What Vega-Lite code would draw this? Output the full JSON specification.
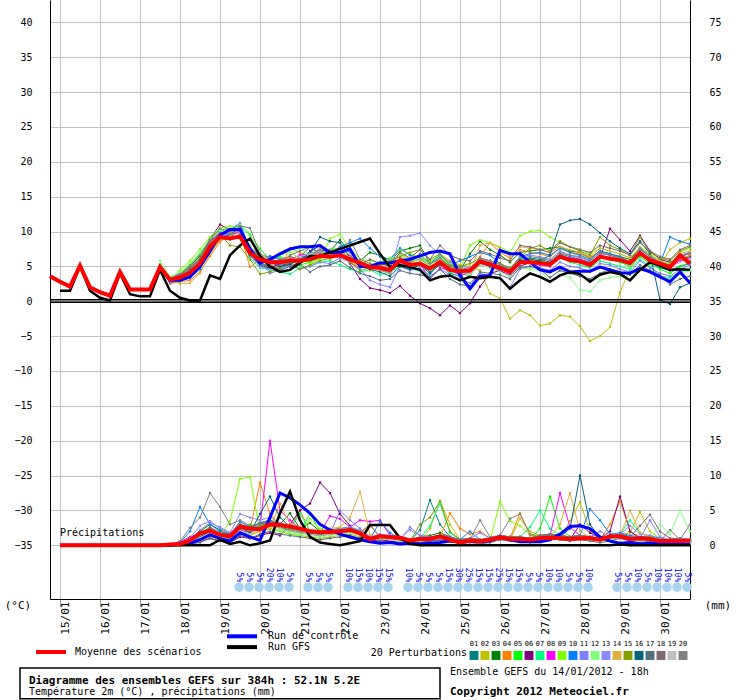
{
"$schema":"https://vega.github.io/schema/vega-lite/v6.json",
"width":640,"height":599,"autosize":"none",
"padding":{"left":50,"top":0,"right":50,"bottom":101},
"background":"white",
"config":{"font":"DejaVu Sans Mono","view":{"stroke":null},"axis":{"labelFont":"DejaVu Sans Mono","labelFontSize":10,"labelColor":"black","labelOverlap":false,"labelBound":false,"labelFlush":false}},
"datasets":{
"tm":[{"x":0,"m":3.6,"c":3.6,"g":null},{"x":1,"m":2.8,"c":2.8,"g":1.5},{"x":2,"m":2.1,"c":2.1,"g":1.5},{"x":3,"m":5.1,"c":5.1,"g":5.0},{"x":4,"m":2.0,"c":2.0,"g":1.5},{"x":5,"m":1.3,"c":1.3,"g":0.5},{"x":6,"m":0.8,"c":0.8,"g":0.1},{"x":7,"m":4.2,"c":4.2,"g":4.0},{"x":8,"m":1.7,"c":1.7,"g":1.0},{"x":9,"m":1.7,"c":1.7,"g":0.7},{"x":10,"m":1.7,"c":1.7,"g":0.7},{"x":11,"m":4.9,"c":4.9,"g":4.5},{"x":12,"m":3.1,"c":3.0,"g":1.5},{"x":13,"m":3.4,"c":3.0,"g":0.5},{"x":14,"m":4.1,"c":3.5,"g":0.1},{"x":15,"m":5.4,"c":5.0,"g":0.1},{"x":16,"m":7.8,"c":7.2,"g":3.7},{"x":17,"m":9.2,"c":9.5,"g":3.2},{"x":18,"m":9.0,"c":10.3,"g":6.6},{"x":19,"m":9.3,"c":10.3,"g":8.0},{"x":20,"m":6.9,"c":7.5,"g":9.0},{"x":21,"m":6.0,"c":5.5,"g":6.5},{"x":22,"m":5.6,"c":6.0,"g":5.0},{"x":23,"m":5.6,"c":6.8,"g":4.2},{"x":24,"m":5.8,"c":7.5,"g":4.5},{"x":25,"m":5.8,"c":7.8,"g":5.5},{"x":26,"m":6.0,"c":7.8,"g":6.5},{"x":27,"m":6.5,"c":8.0,"g":6.5},{"x":28,"m":6.4,"c":7.0,"g":7.0},{"x":29,"m":6.6,"c":7.0,"g":7.5},{"x":30,"m":6.0,"c":7.5,"g":8.0},
{"x":31,"m":5.5,"c":5.0,"g":8.5},{"x":32,"m":4.9,"c":5.0,"g":9.0},{"x":33,"m":4.8,"c":5.5,"g":6.8},{"x":34,"m":4.5,"c":5.5,"g":4.9},{"x":35,"m":5.9,"c":5.8,"g":5.2},{"x":36,"m":5.2,"c":6.0,"g":4.9},{"x":37,"m":5.4,"c":6.5,"g":4.5},{"x":38,"m":4.7,"c":7.0,"g":3.0},{"x":39,"m":5.6,"c":7.2,"g":3.5},{"x":40,"m":4.5,"c":6.8,"g":3.7},{"x":41,"m":4.3,"c":3.7,"g":3.0},{"x":42,"m":4.4,"c":1.8,"g":3.5},{"x":43,"m":5.7,"c":3.6,"g":3.3},{"x":44,"m":5.3,"c":3.7,"g":3.5},{"x":45,"m":4.8,"c":7.3,"g":3.3},{"x":46,"m":4.2,"c":6.8,"g":1.8},{"x":47,"m":5.6,"c":6.8,"g":3.0},{"x":48,"m":5.6,"c":5.6,"g":4.0},{"x":49,"m":5.5,"c":4.5,"g":3.5},{"x":50,"m":5.3,"c":4.2,"g":2.8},{"x":51,"m":6.4,"c":4.9,"g":3.7},{"x":52,"m":5.9,"c":4.2,"g":4.2},{"x":53,"m":5.7,"c":4.3,"g":3.9},{"x":54,"m":5.2,"c":4.3,"g":2.8},{"x":55,"m":6.4,"c":4.9,"g":3.8},{"x":56,"m":6.1,"c":4.5,"g":4.2},{"x":57,"m":5.9,"c":4.1,"g":3.9},{"x":58,"m":5.5,"c":4.0,"g":3.0},{"x":59,"m":6.9,"c":4.7,"g":4.5},{"x":60,"m":5.9,"c":4.2,"g":5.6},{"x":61,"m":5.4,"c":3.5,"g":5.1},{"x":62,"m":4.9,"c":2.8,"g":4.5},{"x":63,"m":6.6,"c":4.2,"g":4.6},{"x":64,"m":5.4,"c":2.6,"g":4.5}],
"pm":[{"x":1,"m":0,"c":0,"g":0},{"x":2,"m":0,"c":0,"g":0},{"x":3,"m":0,"c":0,"g":0},{"x":4,"m":0,"c":0,"g":0},{"x":5,"m":0,"c":0,"g":0},{"x":6,"m":0,"c":0,"g":0},{"x":7,"m":0,"c":0,"g":0},{"x":8,"m":0,"c":0,"g":0},{"x":9,"m":0,"c":0,"g":0},{"x":10,"m":0,"c":0,"g":0},{"x":11,"m":0,"c":0,"g":0},{"x":12,"m":0.1,"c":0,"g":0},{"x":13,"m":0.2,"c":0.1,"g":0},{"x":14,"m":0.7,"c":0.3,"g":0},{"x":15,"m":1.7,"c":0.8,"g":0},{"x":16,"m":2.1,"c":1.5,"g":0},{"x":17,"m":1.5,"c":1.0,"g":0.8},{"x":18,"m":1.3,"c":0.6,"g":0.2},{"x":19,"m":2.7,"c":1.8,"g":0.5},{"x":20,"m":2.4,"c":1.2,"g":0},{"x":21,"m":2.3,"c":0.7,"g":0.3},{"x":22,"m":3.0,"c":4.0,"g":0.7},{"x":23,"m":2.9,"c":7.5,"g":4.6},{"x":24,"m":2.7,"c":6.8,"g":7.7},{"x":25,"m":2.4,"c":5.8,"g":3.6},{"x":26,"m":2.0,"c":4.6,"g":1.2},{"x":27,"m":1.9,"c":3.0,"g":0.4},{"x":28,"m":1.9,"c":2.2,"g":0.2},{"x":29,"m":2.0,"c":1.6,"g":0},{"x":30,"m":2.2,"c":1.2,"g":0.3},{"x":31,"m":1.7,"c":0.8,"g":0.6},{"x":32,"m":0.9,"c":0.5,"g":2.9},{"x":33,"m":1.3,"c":0.3,"g":2.9},{"x":34,"m":1.2,"c":0.4,"g":2.9},{"x":35,"m":1.1,"c":0.2,"g":1.0},{"x":36,"m":0.7,"c":0.3,"g":0.2},{"x":37,"m":0.9,"c":0.2,"g":0},{"x":38,"m":0.9,"c":0.3,"g":0},{"x":39,"m":1.3,"c":0.4,"g":0},{"x":40,"m":0.8,"c":0.6,"g":0},{"x":41,"m":0.4,"c":0.5,"g":0},{"x":42,"m":0.7,"c":0.6,"g":0},{"x":43,"m":0.6,"c":0.5,"g":0},{"x":44,"m":0.8,"c":0.6,"g":0},{"x":45,"m":1.1,"c":1.2,"g":0},{"x":46,"m":0.9,"c":0.8,"g":0},{"x":47,"m":0.9,"c":0.5,"g":0},{"x":48,"m":0.8,"c":0.5,"g":0},{"x":49,"m":1.0,"c":0.5,"g":0},{"x":50,"m":1.1,"c":0.8,"g":0},{"x":51,"m":1.0,"c":1.6,"g":0},{"x":52,"m":0.9,"c":2.7,"g":0},{"x":53,"m":1.0,"c":2.8,"g":0},{"x":54,"m":1.0,"c":2.4,"g":0},{"x":55,"m":0.8,"c":1.2,"g":0},{"x":56,"m":1.3,"c":0.6,"g":0},{"x":57,"m":1.3,"c":0.3,"g":0.1},{"x":58,"m":0.9,"c":0.4,"g":0},{"x":59,"m":1.0,"c":0.2,"g":0},{"x":60,"m":0.9,"c":0.3,"g":0},{"x":61,"m":0.6,"c":0.2,"g":0},{"x":62,"m":0.6,"c":0.1,"g":0},{"x":63,"m":0.6,"c":0.1,"g":0},{"x":64,"m":0.7,"c":0.1,"g":0}],
"tp":[
{"x":11,"a":5.0,"b":4.8,"c":5.1,"d":4.9,"e":5.3,"f":4.7,"g":5.0,"h":4.9,"i":5.2,"j":4.8,"k":4.6,"l":5.8,"m":4.9,"n":5.0,"o":5.1,"p":4.8,"q":4.7,"r":5.0,"s":4.9,"t":5.2},
{"x":12,"a":3.0,"b":2.8,"c":3.2,"d":2.5,"e":3.4,"f":3.1,"g":2.9,"h":3.3,"i":3.0,"j":2.7,"k":3.1,"l":3.5,"m":2.6,"n":3.2,"o":3.0,"p":2.9,"q":3.1,"r":2.8,"s":3.3,"t":3.0},
{"x":13,"a":3.5,"b":3.0,"c":3.8,"d":2.8,"e":4.0,"f":3.2,"g":3.6,"h":3.9,"i":4.5,"j":2.9,"k":3.3,"l":4.2,"m":3.1,"n":2.5,"o":3.7,"p":3.0,"q":3.4,"r":3.6,"s":3.2,"t":3.8},
{"x":14,"a":4.5,"b":3.5,"c":5.0,"d":3.0,"e":5.2,"f":4.0,"g":4.3,"h":4.8,"i":5.8,"j":3.4,"k":4.1,"l":5.5,"m":3.8,"n":2.6,"o":4.9,"p":3.6,"q":4.0,"r":4.7,"s":3.9,"t":5.1},
{"x":15,"a":6.0,"b":5.0,"c":6.5,"d":4.2,"e":6.8,"f":5.8,"g":5.5,"h":6.2,"i":7.5,"j":4.6,"k":5.3,"l":7.0,"m":5.0,"n":4.0,"o":6.2,"p":4.8,"q":5.2,"r":6.0,"s":5.1,"t":6.6},
{"x":16,"a":8.5,"b":7.0,"c":8.8,"d":6.5,"e":9.0,"f":8.9,"g":7.8,"h":8.5,"i":9.2,"j":7.0,"k":7.5,"l":8.9,"m":7.4,"n":6.8,"o":8.4,"p":7.2,"q":7.6,"r":8.2,"s":7.3,"t":8.8},
{"x":17,"a":10.0,"b":8.8,"c":9.5,"d":8.5,"e":10.2,"f":11.0,"g":9.4,"h":9.8,"i":10.5,"j":9.0,"k":9.3,"l":10.1,"m":9.0,"n":8.8,"o":9.6,"p":9.1,"q":9.2,"r":9.7,"s":8.9,"t":10.4},
{"x":18,"a":9.5,"b":9.2,"c":9.0,"d":9.6,"e":10.4,"f":10.2,"g":8.8,"h":9.5,"i":10.8,"j":10.2,"k":9.6,"l":9.8,"m":10.0,"n":9.4,"o":8.0,"p":9.5,"q":9.0,"r":10.0,"s":9.3,"t":9.6},
{"x":19,"a":10.2,"b":9.0,"c":10.5,"d":9.8,"e":10.8,"f":10.9,"g":9.6,"h":10.0,"i":10.4,"j":11.2,"k":10.3,"l":11.0,"m":9.9,"n":10.4,"o":7.8,"p":10.6,"q":9.5,"r":10.5,"s":9.2,"t":10.8},
{"x":20,"a":7.5,"b":7.0,"c":6.5,"d":4.9,"e":9.5,"f":7.2,"g":6.2,"h":7.8,"i":8.0,"j":7.4,"k":6.8,"l":9.8,"m":6.5,"n":7.0,"o":6.0,"p":7.6,"q":6.6,"r":7.1,"s":7.4,"t":10.5},
{"x":21,"a":5.5,"b":6.2,"c":5.2,"d":6.0,"e":7.5,"f":5.0,"g":4.8,"h":6.5,"i":6.0,"j":5.8,"k":5.6,"l":6.5,"m":5.0,"n":6.6,"o":3.9,"p":6.4,"q":5.3,"r":6.0,"s":5.8,"t":6.8},
{"x":22,"a":5.0,"b":5.5,"c":4.8,"d":5.2,"e":6.0,"f":4.8,"g":4.5,"h":5.8,"i":5.6,"j":6.5,"k":4.0,"l":6.2,"m":4.6,"n":6.0,"o":4.2,"p":5.6,"q":5.0,"r":5.5,"s":5.2,"t":6.2},
{"x":23,"a":4.6,"b":5.8,"c":5.0,"d":4.7,"e":6.4,"f":5.4,"g":4.2,"h":5.2,"i":6.8,"j":6.0,"k":4.5,"l":6.6,"m":5.2,"n":5.8,"o":4.8,"p":5.0,"q":4.4,"r":6.0,"s":5.6,"t":5.4},
{"x":24,"a":5.5,"b":6.2,"c":5.6,"d":7.6,"e":5.8,"f":5.0,"g":3.9,"h":6.0,"i":7.2,"j":5.4,"k":5.2,"l":7.0,"m":5.6,"n":6.5,"o":5.4,"p":5.3,"q":5.0,"r":6.4,"s":5.8,"t":6.6},
{"x":25,"a":6.2,"b":5.8,"c":6.4,"d":7.0,"e":5.2,"f":5.6,"g":4.8,"h":6.6,"i":6.0,"j":6.2,"k":4.6,"l":7.4,"m":6.2,"n":5.8,"o":4.6,"p":5.9,"q":5.3,"r":6.0,"s":6.4,"t":7.2},
{"x":26,"a":6.8,"b":6.0,"c":7.8,"d":6.2,"e":5.6,"f":7.2,"g":5.0,"h":6.8,"i":5.4,"j":7.0,"k":5.0,"l":6.8,"m":6.6,"n":6.4,"o":5.2,"p":7.0,"q":4.2,"r":6.5,"s":6.8,"t":7.8},
{"x":27,"a":7.4,"b":6.6,"c":6.8,"d":7.0,"e":6.2,"f":8.0,"g":5.6,"h":7.2,"i":6.0,"j":8.0,"k":5.6,"l":7.2,"m":7.0,"n":7.8,"o":5.8,"p":9.2,"q":5.0,"r":7.4,"s":6.4,"t":8.0},
{"x":28,"a":6.4,"b":7.0,"c":7.2,"d":6.0,"e":7.4,"f":6.6,"g":5.8,"h":6.8,"i":9.0,"j":6.4,"k":5.4,"l":6.6,"m":7.4,"n":6.2,"o":6.2,"p":8.6,"q":5.2,"r":7.0,"s":6.6,"t":7.2},
{"x":29,"a":7.2,"b":6.4,"c":8.8,"d":6.8,"e":7.6,"f":7.8,"g":5.2,"h":7.6,"i":9.6,"j":7.8,"k":6.2,"l":7.4,"m":6.8,"n":7.0,"o":6.6,"p":8.4,"q":5.8,"r":6.8,"s":7.2,"t":6.6},
{"x":30,"a":6.0,"b":5.8,"c":7.0,"d":5.6,"e":6.4,"f":5.4,"g":4.6,"h":6.6,"i":7.6,"j":8.4,"k":5.6,"l":6.8,"m":7.2,"n":6.4,"o":5.6,"p":6.2,"q":4.8,"r":6.0,"s":6.8,"t":8.8},
{"x":31,"a":5.4,"b":5.0,"c":5.8,"d":4.8,"e":5.6,"f":3.2,"g":4.2,"h":5.4,"i":6.0,"j":9.0,"k":4.6,"l":5.8,"m":5.6,"n":5.2,"o":4.4,"p":5.0,"q":4.0,"r":5.2,"s":5.8,"t":6.0},
{"x":32,"a":4.8,"b":4.6,"c":7.0,"d":5.0,"e":5.2,"f":1.9,"g":4.5,"h":5.0,"i":5.8,"j":7.6,"k":3.0,"l":5.2,"m":4.8,"n":4.4,"o":4.8,"p":4.6,"q":3.6,"r":6.0,"s":5.0,"t":5.4},
{"x":33,"a":4.6,"b":5.0,"c":6.6,"d":4.4,"e":4.8,"f":1.6,"g":3.8,"h":4.6,"i":5.6,"j":6.4,"k":2.4,"l":5.6,"m":4.6,"n":4.6,"o":5.2,"p":4.2,"q":3.0,"r":5.4,"s":4.8,"t":5.0},
{"x":34,"a":4.0,"b":5.6,"c":5.8,"d":4.0,"e":4.6,"f":1.2,"g":4.2,"h":4.2,"i":6.2,"j":6.0,"k":2.0,"l":6.0,"m":4.2,"n":5.6,"o":5.8,"p":3.6,"q":3.2,"r":5.0,"s":4.4,"t":4.6},
{"x":35,"a":5.6,"b":6.8,"c":7.2,"d":5.8,"e":6.2,"f":2.2,"g":5.0,"h":5.6,"i":7.4,"j":7.6,"k":5.0,"l":6.6,"m":9.2,"n":6.4,"o":6.4,"p":5.0,"q":4.4,"r":7.0,"s":5.8,"t":6.2},
{"x":36,"a":5.0,"b":6.0,"c":7.6,"d":5.2,"e":5.6,"f":0.8,"g":4.6,"h":5.0,"i":6.8,"j":6.6,"k":4.4,"l":6.0,"m":9.4,"n":5.8,"o":7.0,"p":4.6,"q":4.0,"r":6.2,"s":5.2,"t":5.6},
{"x":37,"a":5.4,"b":6.4,"c":8.0,"d":5.6,"e":6.0,"f":-0.3,"g":4.4,"h":5.4,"i":6.4,"j":6.2,"k":4.8,"l":6.4,"m":9.8,"n":6.0,"o":7.4,"p":5.2,"q":3.8,"r":7.4,"s":5.6,"t":6.8},
{"x":38,"a":4.2,"b":5.6,"c":5.4,"d":4.6,"e":5.2,"f":-1.0,"g":3.8,"h":3.2,"i":5.6,"j":5.4,"k":3.6,"l":5.2,"m":8.0,"n":5.0,"o":6.0,"p":4.0,"q":3.4,"r":6.0,"s":4.8,"t":5.4},
{"x":39,"a":5.2,"b":6.8,"c":6.0,"d":6.2,"e":6.4,"f":-2.0,"g":5.6,"h":4.8,"i":6.8,"j":6.6,"k":4.6,"l":6.4,"m":6.6,"n":5.8,"o":6.8,"p":5.4,"q":4.6,"r":8.0,"s":6.0,"t":6.2},
{"x":40,"a":4.0,"b":5.8,"c":5.0,"d":4.6,"e":5.0,"f":-0.6,"g":4.2,"h":4.4,"i":5.4,"j":5.2,"k":3.8,"l":5.4,"m":5.6,"n":4.8,"o":5.2,"p":4.4,"q":3.2,"r":6.6,"s":4.6,"t":5.0},
{"x":41,"a":3.6,"b":5.2,"c":4.4,"d":4.4,"e":4.6,"f":-1.7,"g":4.0,"h":3.8,"i":4.8,"j":5.8,"k":3.2,"l":4.4,"m":5.0,"n":4.6,"o":5.0,"p":4.0,"q":2.4,"r":6.0,"s":4.2,"t":4.8},
{"x":42,"a":4.2,"b":5.0,"c":6.8,"d":4.2,"e":4.4,"f":-0.3,"g":3.6,"h":4.0,"i":8.0,"j":6.4,"k":2.6,"l":3.8,"m":4.8,"n":4.2,"o":5.4,"p":4.4,"q":2.2,"r":5.8,"s":4.0,"t":4.6},
{"x":43,"a":6.0,"b":4.4,"c":8.6,"d":6.4,"e":5.8,"f":2.1,"g":5.4,"h":5.4,"i":8.8,"j":7.0,"k":4.0,"l":5.2,"m":6.0,"n":8.0,"o":6.2,"p":5.6,"q":4.2,"r":7.2,"s":5.6,"t":6.2},
{"x":44,"a":5.6,"b":1.1,"c":7.4,"d":8.4,"e":5.4,"f":4.0,"g":5.2,"h":5.0,"i":8.4,"j":6.6,"k":3.6,"l":4.8,"m":5.6,"n":8.4,"o":5.8,"p":5.0,"q":4.0,"r":6.8,"s":5.2,"t":5.8},
{"x":45,"a":5.0,"b":0.4,"c":6.6,"d":7.0,"e":5.0,"f":4.4,"g":4.6,"h":4.4,"i":7.8,"j":5.4,"k":3.4,"l":4.2,"m":5.0,"n":7.6,"o":5.4,"p":4.6,"q":3.8,"r":6.2,"s":4.8,"t":5.2},
{"x":46,"a":4.6,"b":-2.5,"c":5.6,"d":6.2,"e":4.4,"f":3.6,"g":4.0,"h":3.8,"i":7.0,"j":4.6,"k":2.0,"l":3.6,"m":4.6,"n":6.4,"o":4.8,"p":4.0,"q":3.2,"r":5.8,"s":4.2,"t":4.6},
{"x":47,"a":6.0,"b":-1.3,"c":7.0,"d":7.4,"e":6.2,"f":5.0,"g":5.6,"h":5.4,"i":9.4,"j":6.4,"k":4.6,"l":4.8,"m":6.4,"n":7.8,"o":6.2,"p":5.8,"q":4.8,"r":8.0,"s":5.6,"t":6.2},
{"x":48,"a":6.2,"b":-2.0,"c":7.2,"d":7.0,"e":6.0,"f":5.6,"g":5.8,"h":5.6,"i":10.0,"j":6.8,"k":5.0,"l":4.6,"m":6.6,"n":7.6,"o":7.6,"p":6.0,"q":5.0,"r":7.8,"s":5.8,"t":6.4},
{"x":49,"a":6.0,"b":-3.5,"c":7.4,"d":6.8,"e":5.8,"f":5.4,"g":5.4,"h":5.2,"i":10.2,"j":7.0,"k":4.8,"l":4.4,"m":6.4,"n":7.4,"o":8.0,"p":5.8,"q":4.6,"r":7.4,"s":5.6,"t":6.2},
{"x":50,"a":5.6,"b":-3.2,"c":7.6,"d":6.4,"e":5.4,"f":5.2,"g":5.0,"h":5.0,"i":9.2,"j":6.6,"k":4.4,"l":2.8,"m":6.0,"n":7.0,"o":7.2,"p":6.6,"q":3.4,"r":7.0,"s":5.2,"t":5.8},
{"x":51,"a":6.8,"b":-2.0,"c":7.8,"d":7.6,"e":6.6,"f":6.4,"g":6.2,"h":6.6,"i":8.4,"j":7.6,"k":5.6,"l":3.8,"m":7.2,"n":7.8,"o":8.6,"p":11.0,"q":4.4,"r":8.4,"s":6.4,"t":7.0},
{"x":52,"a":6.4,"b":-2.2,"c":7.2,"d":7.0,"e":6.0,"f":5.8,"g":5.6,"h":6.2,"i":7.8,"j":7.0,"k":5.0,"l":3.4,"m":6.6,"n":7.4,"o":7.8,"p":11.6,"q":4.0,"r":7.8,"s":5.8,"t":6.6},
{"x":53,"a":6.0,"b":-3.6,"c":7.0,"d":6.8,"e":5.8,"f":5.6,"g":5.2,"h":6.0,"i":7.4,"j":6.6,"k":4.8,"l":1.6,"m":6.2,"n":7.0,"o":7.2,"p":11.8,"q":3.6,"r":7.4,"s":5.6,"t":6.4},
{"x":54,"a":5.6,"b":-5.7,"c":6.2,"d":6.2,"e":5.2,"f":5.0,"g":4.8,"h":5.4,"i":6.8,"j":6.0,"k":4.2,"l":1.4,"m":5.8,"n":6.4,"o":6.6,"p":11.0,"q":3.2,"r":7.0,"s":5.2,"t":5.8},
{"x":55,"a":6.4,"b":-5.0,"c":7.2,"d":7.2,"e":6.4,"f":6.2,"g":5.8,"h":6.6,"i":7.6,"j":7.2,"k":5.4,"l":3.0,"m":6.8,"n":7.6,"o":9.2,"p":9.8,"q":4.0,"r":8.0,"s":6.4,"t":7.0},
{"x":56,"a":6.2,"b":-3.7,"c":6.8,"d":6.6,"e":6.0,"f":10.4,"g":5.4,"h":6.2,"i":7.2,"j":6.8,"k":5.2,"l":3.4,"m":6.6,"n":7.2,"o":8.0,"p":8.6,"q":4.6,"r":7.6,"s":6.2,"t":6.6},
{"x":57,"a":5.8,"b":1.3,"c":6.4,"d":6.2,"e":5.6,"f":8.8,"g":5.0,"h":5.8,"i":6.8,"j":6.4,"k":4.6,"l":3.6,"m":6.0,"n":6.8,"o":7.4,"p":7.6,"q":4.2,"r":7.2,"s":5.8,"t":6.2},
{"x":58,"a":5.2,"b":4.6,"c":6.0,"d":5.6,"e":5.0,"f":7.2,"g":4.6,"h":5.4,"i":6.2,"j":5.6,"k":4.2,"l":3.0,"m":5.4,"n":6.2,"o":6.6,"p":6.8,"q":3.8,"r":6.6,"s":5.2,"t":5.6},
{"x":59,"a":6.8,"b":7.0,"c":7.6,"d":7.2,"e":6.4,"f":9.4,"g":6.0,"h":7.0,"i":7.8,"j":7.4,"k":5.8,"l":5.0,"m":7.6,"n":7.6,"o":9.2,"p":8.6,"q":5.2,"r":8.4,"s":7.0,"t":7.6},
{"x":60,"a":5.6,"b":6.0,"c":6.6,"d":6.0,"e":5.4,"f":7.2,"g":5.0,"h":6.0,"i":6.8,"j":6.4,"k":4.8,"l":4.2,"m":6.4,"n":6.6,"o":7.0,"p":6.8,"q":4.4,"r":7.2,"s":6.0,"t":6.4},
{"x":61,"a":4.8,"b":5.2,"c":5.4,"d":5.4,"e":4.6,"f":6.0,"g":3.6,"h":5.2,"i":5.8,"j":5.4,"k":4.0,"l":3.6,"m":5.6,"n":5.8,"o":6.2,"p":0.2,"q":3.8,"r":6.4,"s":5.2,"t":5.6},
{"x":62,"a":4.4,"b":7.4,"c":5.0,"d":4.8,"e":4.0,"f":5.6,"g":3.4,"h":4.8,"i":5.4,"j":9.2,"k":3.6,"l":3.2,"m":5.0,"n":5.2,"o":5.8,"p":-0.4,"q":2.4,"r":6.0,"s":4.8,"t":5.2},
{"x":63,"a":5.0,"b":8.4,"c":6.0,"d":6.0,"e":5.0,"f":6.4,"g":4.2,"h":5.8,"i":7.0,"j":8.6,"k":4.6,"l":4.0,"m":6.6,"n":6.8,"o":7.2,"p":2.0,"q":3.2,"r":7.4,"s":5.6,"t":6.4},
{"x":64,"a":5.4,"b":9.0,"c":6.4,"d":6.6,"e":5.6,"f":7.0,"g":4.6,"h":6.2,"i":7.6,"j":8.2,"k":5.2,"l":4.4,"m":7.0,"n":7.2,"o":7.8,"p":2.6,"q":3.6,"r":8.0,"s":6.0,"t":6.8}],
"pp":[
{"x":11,"a":0,"b":0,"c":0,"d":0,"e":0,"f":0,"g":0,"h":0,"i":0,"j":0,"k":0,"l":0,"m":0,"n":0,"o":0,"p":0,"q":0,"r":0,"s":0,"t":0},
{"x":12,"a":0,"b":0,"c":0,"d":0,"e":0,"f":0,"g":0,"h":0,"i":0,"j":0,"k":0,"l":0,"m":0,"n":0,"o":0,"p":0,"q":0,"r":0,"s":0,"t":0.1},
{"x":13,"a":0.2,"b":0,"c":0.3,"d":0,"e":0.1,"f":0,"g":0.2,"h":0.5,"i":0,"j":0.4,"k":0.3,"l":0,"m":0.2,"n":0,"o":0.1,"p":0.3,"q":0,"r":0.2,"s":0.1,"t":0.6},
{"x":14,"a":0.8,"b":0.4,"c":1.0,"d":0.3,"e":0.6,"f":0.2,"g":0.9,"h":1.2,"i":0.5,"j":2.0,"k":0.7,"l":0.4,"m":1.1,"n":0.3,"o":0.8,"p":0.6,"q":0.2,"r":1.0,"s":0.5,"t":2.5},
{"x":15,"a":1.5,"b":1.0,"c":2.0,"d":0.8,"e":1.2,"f":0.5,"g":1.8,"h":1.6,"i":1.0,"j":5.5,"k":2.2,"l":1.0,"m":2.8,"n":0.6,"o":1.4,"p":1.2,"q":0.4,"r":1.6,"s":1.1,"t":4.0},
{"x":16,"a":2.4,"b":1.6,"c":3.0,"d":1.5,"e":2.0,"f":1.0,"g":2.6,"h":2.2,"i":1.6,"j":3.0,"k":3.2,"l":1.8,"m":3.5,"n":1.2,"o":2.2,"p":2.0,"q":1.0,"r":2.6,"s":1.8,"t":7.5},
{"x":17,"a":1.5,"b":1.0,"c":2.2,"d":1.0,"e":1.4,"f":0.6,"g":1.6,"h":1.5,"i":1.2,"j":2.0,"k":2.6,"l":1.2,"m":2.4,"n":0.8,"o":1.4,"p":1.4,"q":0.6,"r":1.8,"s":1.2,"t":5.5},
{"x":18,"a":1.0,"b":0.8,"c":1.6,"d":0.6,"e":1.0,"f":0.4,"g":1.2,"h":1.0,"i":3.5,"j":1.5,"k":1.8,"l":0.8,"m":1.8,"n":0.6,"o":1.0,"p":1.0,"q":0.4,"r":1.4,"s":0.8,"t":3.0},
{"x":19,"a":2.5,"b":1.8,"c":3.0,"d":2.6,"e":2.2,"f":1.2,"g":2.8,"h":2.2,"i":9.5,"j":3.4,"k":2.8,"l":2.0,"m":4.5,"n":1.8,"o":2.4,"p":2.6,"q":1.4,"r":3.0,"s":2.0,"t":3.6},
{"x":20,"a":2.0,"b":1.4,"c":2.4,"d":2.2,"e":3.0,"f":1.0,"g":2.2,"h":1.8,"i":9.8,"j":2.6,"k":2.2,"l":1.6,"m":4.0,"n":1.6,"o":2.0,"p":1.8,"q":1.0,"r":2.6,"s":1.6,"t":2.8},
{"x":21,"a":2.8,"b":2.0,"c":3.2,"d":9.0,"e":2.6,"f":1.4,"g":3.0,"h":2.6,"i":2.0,"j":3.2,"k":3.0,"l":2.2,"m":3.6,"n":2.0,"o":2.8,"p":4.5,"q":1.6,"r":3.2,"s":2.4,"t":3.0},
{"x":22,"a":3.4,"b":2.4,"c":3.6,"d":4.5,"e":3.0,"f":1.8,"g":3.6,"h":15.0,"i":2.4,"j":3.6,"k":3.4,"l":2.6,"m":4.0,"n":2.4,"o":3.2,"p":7.0,"q":2.0,"r":3.6,"s":2.8,"t":3.4},
{"x":23,"a":2.6,"b":2.0,"c":3.0,"d":2.8,"e":2.4,"f":1.4,"g":2.8,"h":5.0,"i":2.0,"j":2.8,"k":2.6,"l":2.2,"m":3.2,"n":6.0,"o":2.6,"p":4.0,"q":1.6,"r":3.0,"s":2.4,"t":2.8},
{"x":24,"a":2.2,"b":1.6,"c":4.6,"d":2.4,"e":2.0,"f":3.0,"g":2.4,"h":3.6,"i":1.6,"j":2.4,"k":2.2,"l":1.8,"m":2.8,"n":3.0,"o":2.2,"p":2.6,"q":1.4,"r":2.6,"s":2.0,"t":2.4},
{"x":25,"a":1.8,"b":1.4,"c":2.4,"d":5.0,"e":1.8,"f":5.0,"g":4.6,"h":2.4,"i":1.4,"j":2.2,"k":1.8,"l":1.6,"m":2.4,"n":2.6,"o":1.8,"p":2.2,"q":1.2,"r":2.2,"s":1.8,"t":2.0},
{"x":26,"a":1.6,"b":1.2,"c":3.2,"d":2.0,"e":4.6,"f":6.0,"g":2.0,"h":2.0,"i":3.8,"j":1.8,"k":1.6,"l":1.4,"m":2.2,"n":2.2,"o":1.6,"p":1.8,"q":1.0,"r":2.0,"s":1.6,"t":1.8},
{"x":27,"a":1.4,"b":1.0,"c":2.0,"d":1.6,"e":2.0,"f":9.0,"g":1.8,"h":1.8,"i":2.4,"j":1.6,"k":1.4,"l":1.2,"m":2.0,"n":2.0,"o":1.4,"p":1.6,"q":0.8,"r":1.8,"s":1.4,"t":1.6},
{"x":28,"a":1.6,"b":1.2,"c":2.2,"d":1.8,"e":1.8,"f":7.5,"g":2.0,"h":4.2,"i":2.0,"j":1.8,"k":1.6,"l":1.4,"m":2.2,"n":2.4,"o":1.6,"p":1.8,"q":1.0,"r":2.0,"s":1.6,"t":1.8},
{"x":29,"a":1.8,"b":1.4,"c":2.4,"d":2.0,"e":2.0,"f":4.5,"g":2.2,"h":3.8,"i":1.8,"j":2.0,"k":5.0,"l":1.6,"m":2.4,"n":2.6,"o":1.8,"p":2.0,"q":1.2,"r":2.2,"s":1.8,"t":2.0},
{"x":30,"a":2.0,"b":1.6,"c":2.6,"d":2.2,"e":2.2,"f":2.8,"g":2.4,"h":2.6,"i":2.0,"j":2.2,"k":3.6,"l":1.8,"m":2.6,"n":4.0,"o":2.0,"p":2.2,"q":1.4,"r":2.4,"s":2.0,"t":2.2},
{"x":31,"a":1.6,"b":1.2,"c":2.0,"d":1.8,"e":1.8,"f":1.4,"g":2.0,"h":3.6,"i":1.6,"j":1.8,"k":2.4,"l":1.4,"m":2.2,"n":7.7,"o":1.6,"p":1.8,"q":1.0,"r":2.0,"s":1.6,"t":1.8},
{"x":32,"a":0.8,"b":0.6,"c":1.0,"d":2.8,"e":0.8,"f":0.6,"g":1.0,"h":3.4,"i":0.8,"j":0.9,"k":1.2,"l":0.7,"m":1.2,"n":1.5,"o":0.8,"p":0.9,"q":0.5,"r":1.0,"s":0.8,"t":3.0},
{"x":33,"a":1.2,"b":0.8,"c":1.4,"d":1.2,"e":1.0,"f":0.8,"g":1.4,"h":3.6,"i":1.0,"j":3.4,"k":1.4,"l":1.0,"m":1.6,"n":1.0,"o":1.2,"p":1.2,"q":0.6,"r":1.4,"s":1.0,"t":1.2},
{"x":34,"a":1.0,"b":0.6,"c":1.2,"d":1.0,"e":0.8,"f":0.6,"g":1.2,"h":1.4,"i":0.8,"j":1.8,"k":1.2,"l":0.8,"m":1.4,"n":0.8,"o":1.0,"p":1.0,"q":0.4,"r":1.2,"s":0.8,"t":1.0},
{"x":35,"a":0.8,"b":0.4,"c":1.0,"d":0.8,"e":0.6,"f":0.4,"g":1.0,"h":0.8,"i":0.6,"j":0.9,"k":0.8,"l":0.6,"m":1.0,"n":0.6,"o":0.8,"p":0.8,"q":0.2,"r":1.0,"s":0.6,"t":0.8},
{"x":36,"a":0.6,"b":0.2,"c":0.8,"d":0.6,"e":0.4,"f":0.2,"g":0.8,"h":0.6,"i":0.4,"j":0.7,"k":2.6,"l":0.4,"m":2.2,"n":0.4,"o":0.6,"p":0.6,"q":0.2,"r":0.8,"s":0.4,"t":0.6},
{"x":37,"a":2.2,"b":0.6,"c":1.2,"d":0.8,"e":0.6,"f":0.4,"g":1.0,"h":0.8,"i":0.6,"j":1.0,"k":1.4,"l":0.6,"m":1.4,"n":0.6,"o":3.0,"p":0.8,"q":0.4,"r":1.0,"s":0.6,"t":0.8},
{"x":38,"a":6.5,"b":2.4,"c":1.4,"d":1.0,"e":0.8,"f":0.6,"g":2.8,"h":1.0,"i":0.8,"j":1.2,"k":1.2,"l":0.8,"m":1.2,"n":0.8,"o":4.0,"p":1.0,"q":0.6,"r":1.2,"s":0.8,"t":1.0},
{"x":39,"a":3.0,"b":6.4,"c":1.8,"d":1.2,"e":1.0,"f":0.8,"g":6.0,"h":1.2,"i":1.0,"j":1.4,"k":1.4,"l":1.0,"m":1.4,"n":1.0,"o":6.3,"p":1.2,"q":0.8,"r":1.4,"s":1.0,"t":1.2},
{"x":40,"a":1.2,"b":3.0,"c":1.2,"d":4.6,"e":0.8,"f":0.6,"g":1.8,"h":1.0,"i":0.8,"j":1.2,"k":1.2,"l":0.8,"m":1.2,"n":0.8,"o":2.0,"p":1.0,"q":0.6,"r":1.2,"s":0.8,"t":1.0},
{"x":41,"a":0.6,"b":0.8,"c":0.8,"d":2.4,"e":0.4,"f":0.4,"g":0.8,"h":0.6,"i":0.4,"j":0.8,"k":0.8,"l":0.4,"m":0.8,"n":0.4,"o":0.8,"p":0.6,"q":0.2,"r":0.8,"s":0.4,"t":0.6},
{"x":42,"a":0.8,"b":0.6,"c":1.0,"d":1.6,"e":0.6,"f":0.6,"g":1.0,"h":0.8,"i":0.6,"j":2.0,"k":1.0,"l":0.6,"m":1.0,"n":0.6,"o":1.0,"p":0.8,"q":0.4,"r":1.0,"s":0.6,"t":0.8},
{"x":43,"a":0.6,"b":0.4,"c":0.8,"d":2.0,"e":0.4,"f":0.4,"g":0.8,"h":0.6,"i":0.4,"j":0.8,"k":1.8,"l":0.4,"m":0.8,"n":0.4,"o":0.8,"p":0.6,"q":0.2,"r":0.8,"s":0.4,"t":3.6},
{"x":44,"a":0.8,"b":0.6,"c":1.0,"d":1.0,"e":0.6,"f":0.6,"g":1.0,"h":0.8,"i":0.6,"j":1.0,"k":1.0,"l":0.6,"m":1.0,"n":0.6,"o":1.0,"p":0.8,"q":0.4,"r":1.0,"s":0.6,"t":1.2},
{"x":45,"a":1.4,"b":1.0,"c":1.4,"d":1.2,"e":1.2,"f":1.0,"g":1.4,"h":1.2,"i":6.3,"j":1.4,"k":1.4,"l":1.0,"m":1.4,"n":1.0,"o":1.4,"p":1.2,"q":0.8,"r":1.4,"s":1.0,"t":1.4},
{"x":46,"a":1.0,"b":0.8,"c":1.2,"d":1.0,"e":1.0,"f":0.8,"g":1.2,"h":1.0,"i":3.5,"j":1.2,"k":1.2,"l":0.8,"m":1.2,"n":0.8,"o":1.2,"p":1.0,"q":0.6,"r":1.2,"s":0.8,"t":3.8},
{"x":47,"a":1.0,"b":3.8,"c":1.2,"d":4.6,"e":1.0,"f":0.8,"g":1.2,"h":1.0,"i":2.8,"j":1.2,"k":1.2,"l":0.8,"m":1.2,"n":0.8,"o":1.2,"p":1.0,"q":0.6,"r":1.2,"s":0.8,"t":4.5},
{"x":48,"a":0.8,"b":2.0,"c":1.0,"d":1.4,"e":0.8,"f":0.6,"g":2.6,"h":0.8,"i":1.6,"j":1.0,"k":1.0,"l":0.6,"m":1.0,"n":0.6,"o":1.0,"p":0.8,"q":0.4,"r":1.0,"s":0.6,"t":1.6},
{"x":49,"a":1.2,"b":1.4,"c":1.4,"d":1.2,"e":2.4,"f":1.0,"g":5.0,"h":1.2,"i":1.4,"j":1.4,"k":1.4,"l":1.0,"m":1.4,"n":1.0,"o":1.4,"p":1.2,"q":0.8,"r":1.4,"s":1.0,"t":1.2},
{"x":50,"a":1.4,"b":1.2,"c":1.6,"d":1.4,"e":7.0,"f":1.2,"g":2.4,"h":1.4,"i":1.2,"j":1.6,"k":1.6,"l":1.2,"m":1.6,"n":1.2,"o":1.6,"p":1.4,"q":1.0,"r":1.6,"s":1.2,"t":1.4},
{"x":51,"a":1.2,"b":1.0,"c":1.4,"d":1.2,"e":2.4,"f":1.0,"g":1.4,"h":7.5,"i":1.0,"j":1.4,"k":1.4,"l":1.0,"m":1.4,"n":3.0,"o":1.4,"p":1.2,"q":0.8,"r":1.4,"s":1.0,"t":1.2},
{"x":52,"a":1.0,"b":3.5,"c":1.2,"d":1.0,"e":1.2,"f":0.8,"g":1.2,"h":2.6,"i":0.8,"j":1.2,"k":1.2,"l":0.8,"m":1.2,"n":7.5,"o":1.2,"p":2.4,"q":0.6,"r":1.2,"s":0.8,"t":1.0},
{"x":53,"a":1.2,"b":6.2,"c":1.4,"d":1.2,"e":1.4,"f":3.0,"g":1.4,"h":1.4,"i":1.0,"j":1.4,"k":1.4,"l":1.0,"m":1.4,"n":2.0,"o":1.4,"p":10.0,"q":0.8,"r":1.4,"s":1.0,"t":1.2},
{"x":54,"a":1.0,"b":2.0,"c":1.2,"d":1.0,"e":1.2,"f":1.8,"g":1.2,"h":1.2,"i":0.8,"j":5.2,"k":1.2,"l":0.8,"m":1.2,"n":1.2,"o":1.2,"p":3.0,"q":0.6,"r":1.2,"s":0.8,"t":1.0},
{"x":55,"a":0.8,"b":1.0,"c":1.0,"d":0.8,"e":1.0,"f":1.0,"g":1.0,"h":1.0,"i":0.6,"j":3.6,"k":2.0,"l":0.6,"m":1.0,"n":0.8,"o":1.0,"p":1.0,"q":0.4,"r":1.0,"s":0.6,"t":0.8},
{"x":56,"a":1.0,"b":1.2,"c":1.2,"d":3.0,"e":1.2,"f":2.0,"g":1.2,"h":1.2,"i":0.8,"j":1.6,"k":1.2,"l":0.8,"m":1.2,"n":1.0,"o":1.2,"p":1.2,"q":0.6,"r":1.2,"s":0.8,"t":1.0},
{"x":57,"a":1.6,"b":1.4,"c":1.6,"d":6.4,"e":1.4,"f":7.0,"g":1.6,"h":1.6,"i":1.2,"j":1.8,"k":1.6,"l":1.2,"m":1.6,"n":1.4,"o":1.6,"p":1.4,"q":1.0,"r":1.6,"s":1.2,"t":1.4},
{"x":58,"a":1.2,"b":1.8,"c":1.2,"d":2.0,"e":1.0,"f":2.0,"g":3.6,"h":1.2,"i":0.8,"j":1.4,"k":1.2,"l":0.8,"m":2.8,"n":5.0,"o":1.2,"p":1.0,"q":0.6,"r":1.2,"s":0.8,"t":1.0},
{"x":59,"a":1.0,"b":4.8,"c":1.0,"d":1.2,"e":0.8,"f":1.0,"g":1.8,"h":1.0,"i":0.6,"j":1.2,"k":1.0,"l":0.6,"m":1.6,"n":1.8,"o":1.0,"p":0.8,"q":0.4,"r":2.8,"s":0.6,"t":0.8},
{"x":60,"a":1.2,"b":2.0,"c":1.2,"d":1.2,"e":1.0,"f":1.2,"g":1.2,"h":1.2,"i":0.8,"j":1.4,"k":3.6,"l":0.8,"m":1.4,"n":1.2,"o":1.2,"p":1.0,"q":0.6,"r":4.4,"s":0.8,"t":1.0},
{"x":61,"a":0.8,"b":1.0,"c":0.8,"d":0.8,"e":0.6,"f":0.8,"g":0.8,"h":0.8,"i":0.4,"j":1.0,"k":1.2,"l":3.0,"m":0.8,"n":0.8,"o":0.8,"p":0.6,"q":0.4,"r":2.0,"s":0.4,"t":0.6},
{"x":62,"a":0.6,"b":0.8,"c":0.6,"d":0.6,"e":0.4,"f":0.6,"g":0.6,"h":0.6,"i":0.4,"j":0.8,"k":0.8,"l":1.6,"m":0.6,"n":0.6,"o":0.6,"p":0.4,"q":0.2,"r":1.0,"s":0.4,"t":2.2},
{"x":63,"a":0.8,"b":1.0,"c":0.8,"d":0.8,"e":0.6,"f":0.8,"g":0.8,"h":0.8,"i":0.6,"j":1.0,"k":1.0,"l":5.0,"m":0.8,"n":0.8,"o":0.8,"p":0.6,"q":0.4,"r":1.0,"s":0.6,"t":0.8},
{"x":64,"a":0.6,"b":0.8,"c":0.6,"d":0.6,"e":0.4,"f":0.6,"g":0.6,"h":0.6,"i":0.4,"j":0.8,"k":0.8,"l":2.0,"m":0.6,"n":0.6,"o":0.6,"p":0.4,"q":0.2,"r":0.8,"s":0.4,"t":3.0}],
"snow":[{"x":18.9,"t":"5%"},{"x":19.9,"t":"5%"},{"x":20.9,"t":"5%"},{"x":21.9,"t":"20%"},{"x":22.9,"t":"10%"},{"x":23.9,"t":"5%"},{"x":25.8,"t":"5%"},{"x":26.8,"t":"5%"},{"x":27.8,"t":"5%"},{"x":29.8,"t":"10%"},{"x":30.8,"t":"15%"},{"x":31.8,"t":"10%"},{"x":32.8,"t":"15%"},{"x":33.8,"t":"15%"},{"x":35.8,"t":"10%"},{"x":36.8,"t":"5%"},{"x":37.8,"t":"5%"},{"x":38.8,"t":"5%"},{"x":39.8,"t":"15%"},{"x":40.8,"t":"30%"},{"x":41.8,"t":"25%"},{"x":42.8,"t":"15%"},{"x":43.8,"t":"15%"},{"x":44.8,"t":"25%"},{"x":45.8,"t":"15%"},{"x":46.8,"t":"15%"},{"x":47.8,"t":"5%"},{"x":48.8,"t":"5%"},{"x":49.8,"t":"10%"},{"x":50.8,"t":"10%"},{"x":51.8,"t":"5%"},{"x":52.8,"t":"5%"},{"x":53.8,"t":"10%"},{"x":56.7,"t":"5%"},{"x":57.7,"t":"5%"},{"x":58.7,"t":"10%"},{"x":59.7,"t":"5%"},{"x":60.7,"t":"10%"},{"x":61.7,"t":"10%"},{"x":62.7,"t":"10%"},{"x":63.7,"t":"5%"}],
"leg":[{"m":"a","n":"01","x":42.4},{"m":"b","n":"02","x":43.5},{"m":"c","n":"03","x":44.6},{"m":"d","n":"04","x":45.7},{"m":"e","n":"05","x":46.8},{"m":"f","n":"06","x":47.9},{"m":"g","n":"07","x":49.0},{"m":"h","n":"08","x":50.1},{"m":"i","n":"09","x":51.2},{"m":"j","n":"10","x":52.3},{"m":"k","n":"11","x":53.4},{"m":"l","n":"12","x":54.5},{"m":"m","n":"13","x":55.6},{"m":"n","n":"14","x":56.7},{"m":"o","n":"15","x":57.8},{"m":"p","n":"16","x":58.9},{"m":"q","n":"17","x":60.0},{"m":"r","n":"18","x":61.1},{"m":"s","n":"19","x":62.2},{"m":"t","n":"20","x":63.3}]
},
"resolve":{"scale":{"y":"independent"}},
"layer":[
{"layer":[
 {"data":{"name":"tp"},"transform":[{"fold":["a","b","c","d","e","f","g","h","i","j","k","l","m","n","o","p","q","r","s","t"],"as":["mem","v"]}],
  "mark":{"type":"line","strokeWidth":1,"point":{"size":6,"filled":true}},
  "encoding":{
   "x":{"field":"x","type":"quantitative","scale":{"domain":[0,64],"nice":false,"zero":false},
        "axis":{"values":[1,5,9,13,17,21,25,29,33,37,41,45,49,53,57,61],"tickCount":20,"labelExpr":"(round((datum.value-1)/4)+15) + '/01'","labelAngle":270,"labelAlign":"right","labelBaseline":"middle","labelOffset":5,"labelPadding":-6,"tickSize":8,"tickColor":"#a0a0a0","grid":true,"gridColor":"#c0c0c0","domainColor":"black","title":null,"labelFontSize":11}},
   "y":{"field":"v","type":"quantitative","scale":{"domain":[-42.7,43.2],"nice":false,"zero":false},
        "axis":{"values":[-35,-30,-25,-20,-15,-10,-5,0,5,10,15,20,25,30,35,40],"tickCount":20,"grid":true,"gridColor":"#c0c0c0","ticks":false,"labelPadding":18,"domainColor":"black","title":null}},
   "color":{"field":"mem","type":"nominal","legend":null,"scale":{"domain":["a","b","c","d","e","f","g","h","i","j","k","l","m","n","o","p","q","r","s","t"],"range":["#008080","#c0c000","#008000","#ff8000","#00ff00","#800080","#00ff80","#ff00ff","#80ff00","#0080ff","#8080ff","#80ff80","#8888ff","#e0b040","#80a000","#006080","#507080","#806870","#c0c0c0","#808080"]}}}},
 {"data":{"name":"tm"},"mark":{"type":"line","color":"#0000ff","strokeWidth":3},"encoding":{"x":{"field":"x","type":"quantitative"},"y":{"field":"c","type":"quantitative"}}},
 {"data":{"name":"tm"},"mark":{"type":"line","color":"black","strokeWidth":2.5},"encoding":{"x":{"field":"x","type":"quantitative"},"y":{"field":"g","type":"quantitative"}}},
 {"data":{"name":"tm"},"mark":{"type":"line","color":"#ff0000","strokeWidth":4},"encoding":{"x":{"field":"x","type":"quantitative"},"y":{"field":"m","type":"quantitative"}}},
 {"data":{"values":[{}]},"mark":{"type":"rule","color":"black","strokeWidth":1.5},"encoding":{"x":{"datum":0},"x2":{"datum":64},"y":{"datum":0.2}}},
 {"data":{"values":[{}]},"mark":{"type":"rule","color":"black","strokeWidth":1.5},"encoding":{"x":{"datum":0},"x2":{"datum":64},"y":{"datum":-0.15}}},
 {"data":{"name":"snow"},"mark":{"type":"circle","size":90,"color":"#a8d4f0","opacity":1},"encoding":{"x":{"field":"x","type":"quantitative"},"y":{"datum":-41.0}}},
 {"data":{"name":"snow"},"mark":{"type":"text","color":"#0000ff","fontSize":8,"angle":90,"align":"right","baseline":"middle","font":"DejaVu Sans Mono"},"encoding":{"x":{"field":"x","type":"quantitative"},"y":{"datum":-40.3},"text":{"field":"t"}}},
 {"data":{"values":[{}]},"mark":{"type":"text","text":"(°C)","fontSize":11,"align":"center","baseline":"middle"},"encoding":{"x":{"datum":-3.2},"y":{"datum":-43.7}}},
 {"data":{"values":[{}]},"mark":{"type":"text","text":"(mm)","fontSize":11,"align":"center","baseline":"middle"},"encoding":{"x":{"datum":66.8},"y":{"datum":-43.7}}},
 {"data":{"values":[{}]},"mark":{"type":"rule","color":"#ff0000","strokeWidth":4},"encoding":{"x":{"datum":-1.4},"x2":{"datum":1.6},"y":{"datum":-50.3}}},
 {"data":{"values":[{}]},"mark":{"type":"text","text":"Moyenne des scénarios","fontSize":10,"align":"left","baseline":"middle"},"encoding":{"x":{"datum":2.5},"y":{"datum":-50.3}}},
 {"data":{"values":[{}]},"mark":{"type":"rule","color":"#0000ff","strokeWidth":4},"encoding":{"x":{"datum":17.7},"x2":{"datum":20.7},"y":{"datum":-48.05}}},
 {"data":{"values":[{}]},"mark":{"type":"text","text":"Run de contrôle","fontSize":10,"align":"left","baseline":"middle"},"encoding":{"x":{"datum":21.8},"y":{"datum":-48.05}}},
 {"data":{"values":[{}]},"mark":{"type":"rule","color":"black","strokeWidth":4},"encoding":{"x":{"datum":17.7},"x2":{"datum":20.7},"y":{"datum":-49.6}}},
 {"data":{"values":[{}]},"mark":{"type":"text","text":"Run GFS","fontSize":10,"align":"left","baseline":"middle"},"encoding":{"x":{"datum":21.8},"y":{"datum":-49.6}}},
 {"data":{"values":[{}]},"mark":{"type":"text","text":"20 Perturbations","fontSize":10,"align":"right","baseline":"middle"},"encoding":{"x":{"datum":41.7},"y":{"datum":-50.4}}},
 {"data":{"name":"leg"},"mark":{"type":"square","size":80,"opacity":1,"filled":true},"encoding":{"x":{"field":"x","type":"quantitative"},"y":{"datum":-50.8},"color":{"field":"m","type":"nominal","legend":null}}},
 {"data":{"name":"leg"},"mark":{"type":"text","fontSize":7,"baseline":"middle"},"encoding":{"x":{"field":"x","type":"quantitative"},"y":{"datum":-49.2},"text":{"field":"n"}}},
 {"data":{"values":[{}]},"mark":{"type":"rect","fill":"white","stroke":"black","strokeWidth":1.5},"encoding":{"x":{"datum":-3.0},"x2":{"datum":39.0},"y":{"datum":-52.6},"y2":{"datum":-57.0}}},
 {"data":{"values":[{}]},"mark":{"type":"text","text":"Diagramme des ensembles GEFS sur 384h : 52.1N 5.2E","fontSize":11,"fontWeight":"bold","align":"left","baseline":"middle"},"encoding":{"x":{"datum":-2.1},"y":{"datum":-54.5}}},
 {"data":{"values":[{}]},"mark":{"type":"text","text":"Température 2m (°C) , précipitations (mm)","fontSize":10,"align":"left","baseline":"middle"},"encoding":{"x":{"datum":-2.1},"y":{"datum":-56.1}}},
 {"data":{"values":[{}]},"mark":{"type":"text","text":"Ensemble GEFS du 14/01/2012 - 18h","fontSize":10,"align":"left","baseline":"middle"},"encoding":{"x":{"datum":40.0},"y":{"datum":-53.2}}},
 {"data":{"values":[{}]},"mark":{"type":"text","text":"Copyright 2012 Meteociel.fr","fontSize":11,"fontWeight":"bold","align":"left","baseline":"middle"},"encoding":{"x":{"datum":40.0},"y":{"datum":-56.1}}},
 {"data":{"values":[{}]},"mark":{"type":"text","text":"Précipitations","fontSize":10,"align":"left","baseline":"bottom"},"encoding":{"x":{"datum":1},"y":{"datum":-34.0}}}
]},
{"layer":[
 {"data":{"name":"pp"},"transform":[{"fold":["a","b","c","d","e","f","g","h","i","j","k","l","m","n","o","p","q","r","s","t"],"as":["mem","v"]}],
  "mark":{"type":"line","strokeWidth":1,"point":{"size":6,"filled":true}},
  "encoding":{"x":{"field":"x","type":"quantitative"},
   "y":{"field":"v","type":"quantitative","scale":{"domain":[-7.7,78.2],"nice":false,"zero":false},
        "axis":{"orient":"right","values":[0,5,10,15,20,25,30,35,40,45,50,55,60,65,70,75],"tickCount":20,"grid":false,"ticks":false,"labelPadding":19,"domainColor":"black","title":null}},
   "color":{"field":"mem","type":"nominal","legend":null}}},
 {"data":{"name":"pm"},"mark":{"type":"line","color":"#0000ff","strokeWidth":3},"encoding":{"x":{"field":"x","type":"quantitative"},"y":{"field":"c","type":"quantitative"}}},
 {"data":{"name":"pm"},"mark":{"type":"line","color":"black","strokeWidth":2.5},"encoding":{"x":{"field":"x","type":"quantitative"},"y":{"field":"g","type":"quantitative"}}},
 {"data":{"name":"pm"},"mark":{"type":"line","color":"#ff0000","strokeWidth":4},"encoding":{"x":{"field":"x","type":"quantitative"},"y":{"field":"m","type":"quantitative"}}}
]}
]
}
